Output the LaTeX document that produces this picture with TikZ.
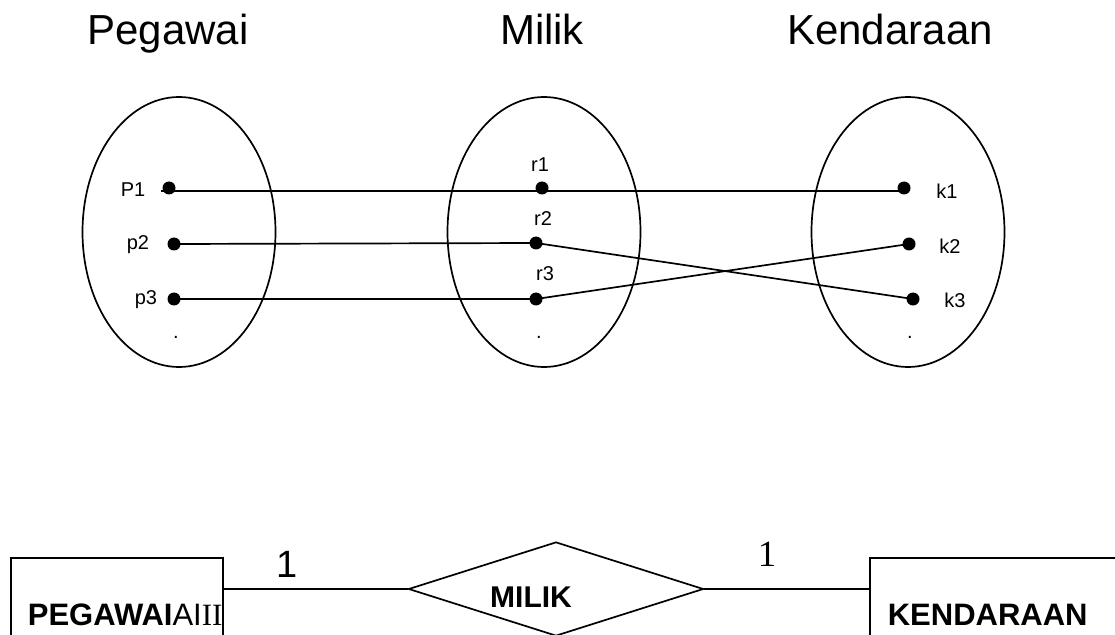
\documentclass[tikz,border=0pt]{standalone}
\usepackage{fontspec}
\setmainfont{Liberation Sans}
\newfontfamily\seriffont{Liberation Serif}
\usetikzlibrary{shapes.geometric}
\begin{document}
\begin{tikzpicture}[x=1bp,y=-1bp,line width=1.7bp,
  setshape/.style={draw,ellipse,minimum width=193bp,minimum height=270bp,inner sep=0pt},
  pt/.style={circle,fill=black,inner sep=0pt,minimum size=13bp},
  lbl/.style={font=\fontsize{20bp}{24bp}\selectfont,inner sep=0pt},
  ttl/.style={font=\fontsize{42bp}{50bp}\selectfont,inner sep=0pt,anchor=base},
  entity/.style={draw,rectangle,inner sep=0pt},
  etext/.style={font=\fontsize{31bp}{36bp}\selectfont\bfseries,inner sep=0pt,anchor=base west},
  card/.style={inner sep=0pt,anchor=base}]
\useasboundingbox (0,0) rectangle (1115,635);
\clip (0,0) rectangle (1115,635);
% titles
\node[ttl] (tpeg) at (168,45) {Pegawai};
\node[ttl] (tmil) at (542,45) {Milik};
\node[ttl] (tken) at (890,45) {Kendaraan};
% sets
\node[setshape] (e1) at (179,232) {};
\node[setshape] (e2) at (544,232) {};
\node[setshape] (e3) at (908,232) {};
% points
\node[pt] (P1) at (169,188) {};
\node[pt] (p2) at (174,244) {};
\node[pt] (p3) at (174,299) {};
\node[pt] (r1) at (542,188) {};
\node[pt] (r2) at (536,243) {};
\node[pt] (r3) at (536,299) {};
\node[pt] (k1) at (904,188) {};
\node[pt] (k2) at (909,244) {};
\node[pt] (k3) at (913,299) {};
% labels
\node[lbl] (lP1) at (133,190) {P1};
\node[lbl] (lp2) at (138,245) {p2};
\node[lbl] (lp3) at (146,300) {p3};
\node[lbl] (lr1) at (540,165) {r1};
\node[lbl] (lr2) at (543,219) {r2};
\node[lbl] (lr3) at (545,274) {r3};
\node[lbl] (lk1) at (947,191) {k1};
\node[lbl] (lk2) at (950,246) {k2};
\node[lbl] (lk3) at (955,300) {k3};
\node[lbl,anchor=base] (d1) at (176,338) {.};
\node[lbl,anchor=base] (d2) at (539,338) {.};
\node[lbl,anchor=base] (d3) at (910,338) {.};
% connectors
\draw ([xshift=-8bp,yshift=-3bp]P1.center) -- ([yshift=-3bp]k1.center);
\draw (p2.center) -- (r2.center) -- (k3.center);
\draw (p3.center) -- (r3.center) -- (k2.center);
% ER diagram
\node[entity,minimum width=212bp,minimum height=100bp] (peg) at (117,608) {};
\node[entity,minimum width=260bp,minimum height=100bp] (ken) at (1000,608) {};
\node[draw,diamond,aspect=3.14,minimum width=295bp,minimum height=94bp,inner sep=0pt] (mil) at (556,589) {};
\draw (mil.west) -- (mil.west -| peg.east);
\draw (mil.east) -- (mil.east -| ken.west);
\node[inner sep=0pt,anchor=base,font=\fontsize{30bp}{36bp}\selectfont\bfseries] (miltext) at (531,607) {MILIK};
\node[etext] (pegtext) at (27,625) {PEGAWAI{\mdseries AI}{\mdseries\seriffont II}};
\node[etext] (kentext) at (887,625) {KENDARAAN};
\node[card,font=\fontsize{38bp}{44bp}\selectfont] (c1) at (287,577) {1};
\node[card,font=\fontsize{37bp}{44bp}\selectfont\seriffont] (c2) at (767,566) {1};
\end{tikzpicture}
\end{document}
